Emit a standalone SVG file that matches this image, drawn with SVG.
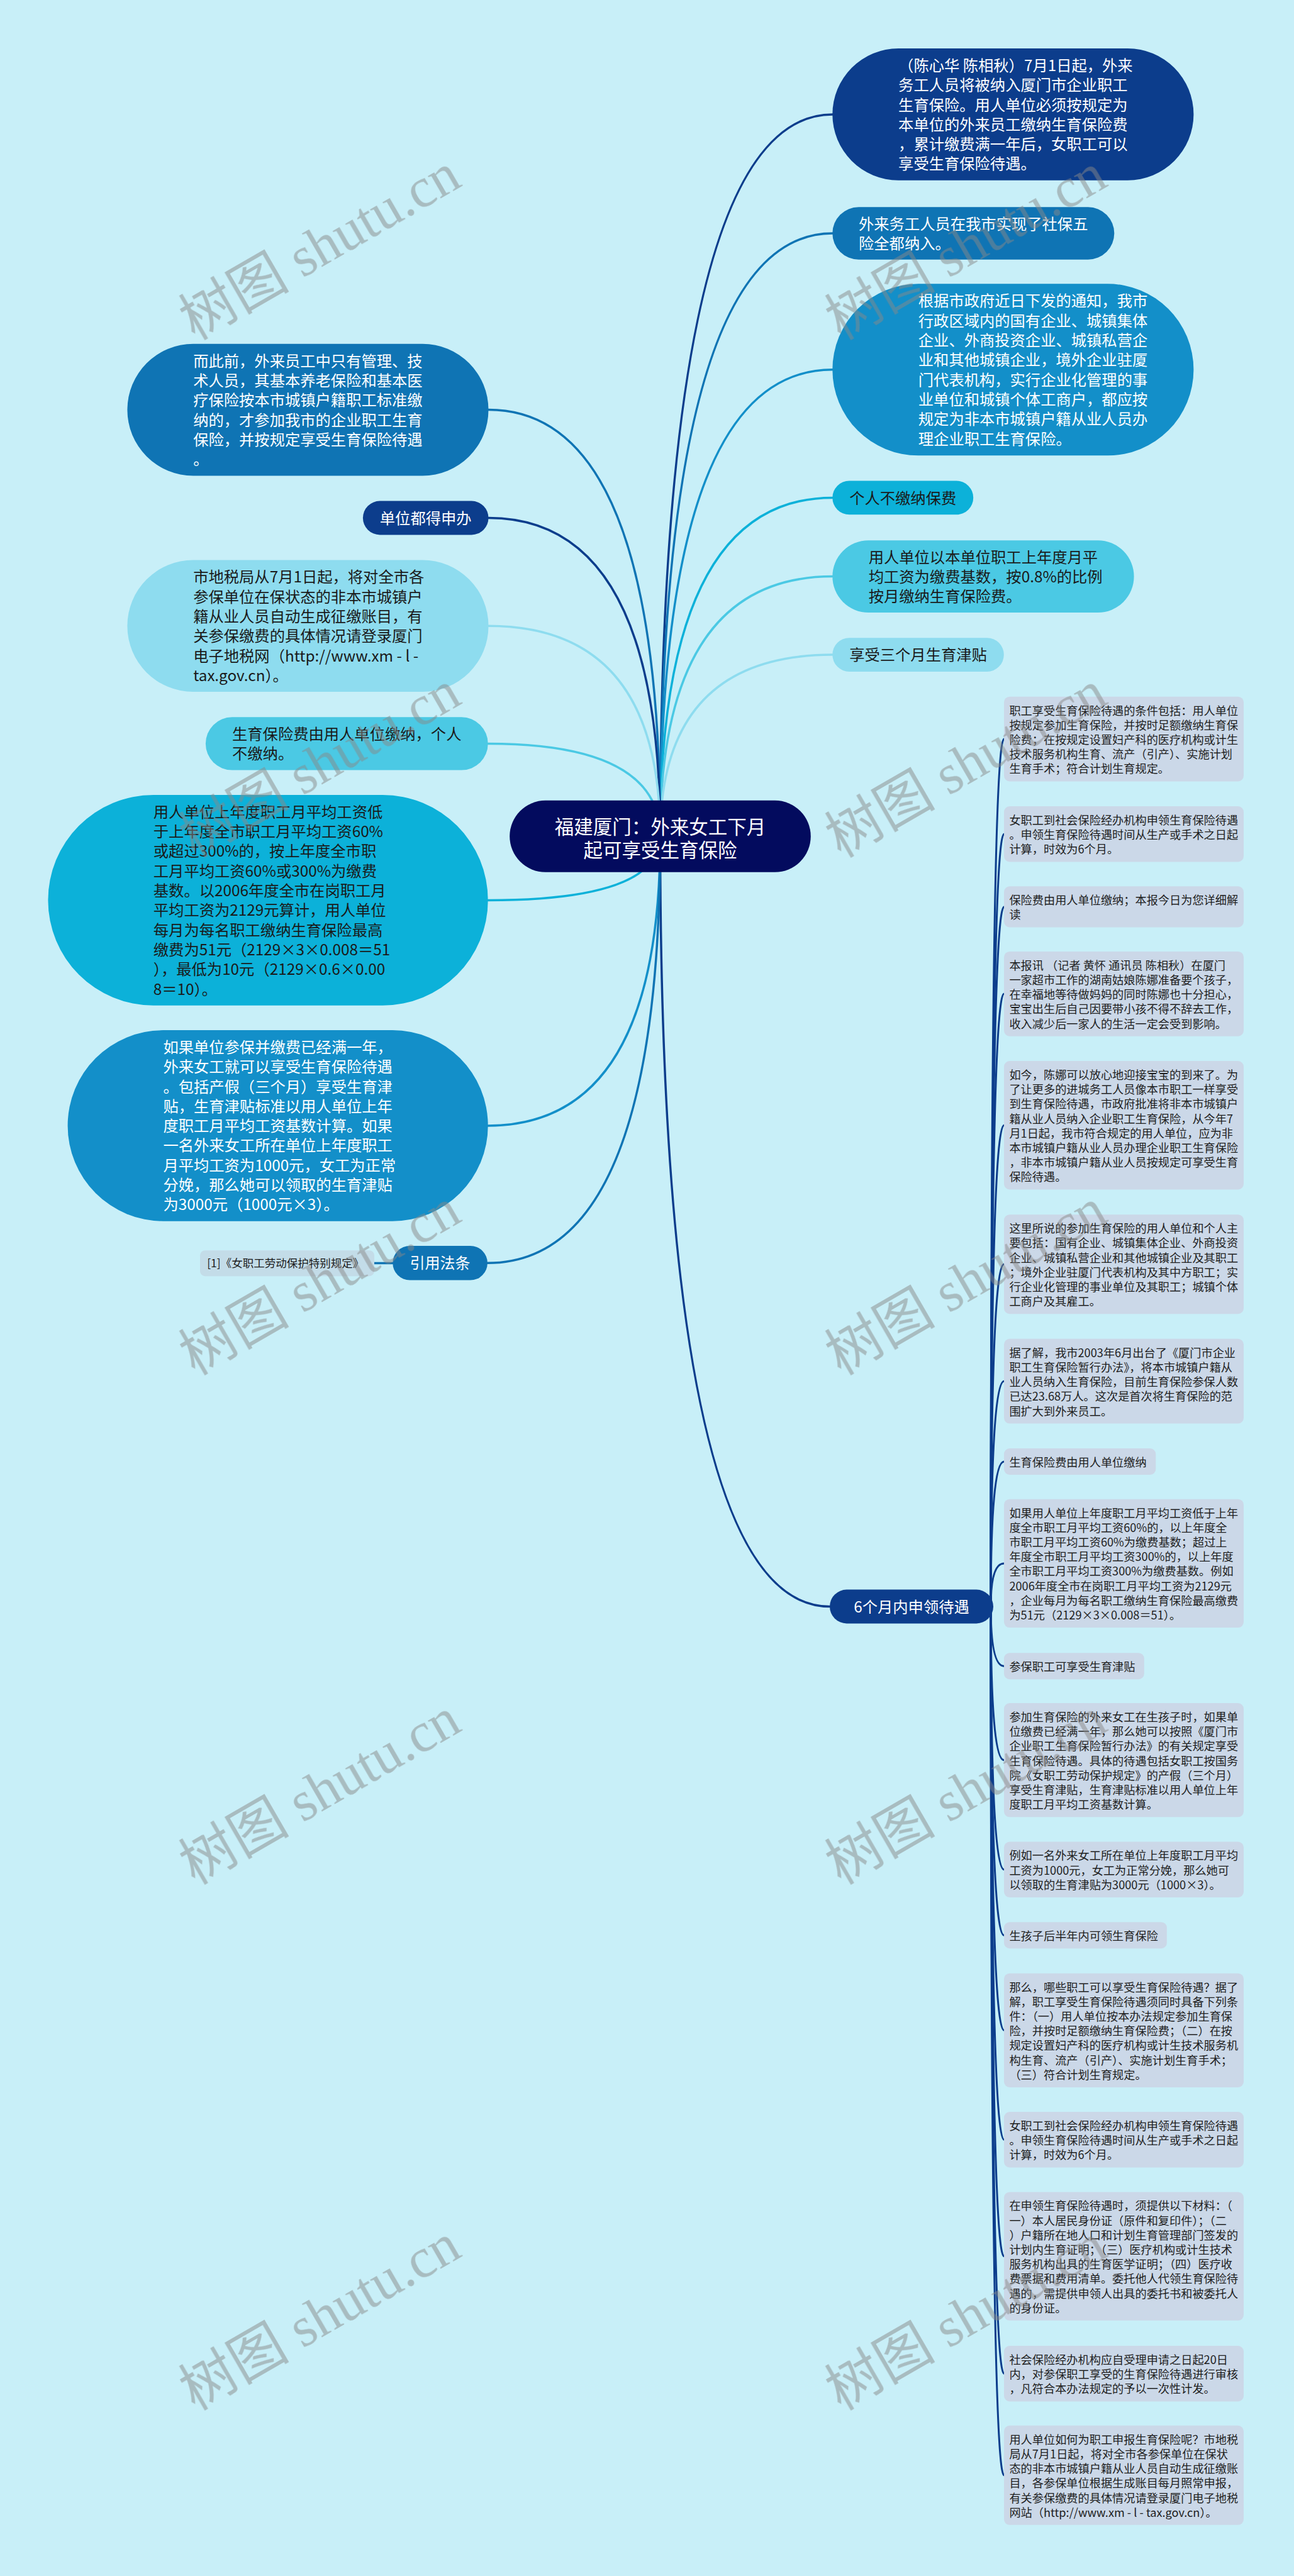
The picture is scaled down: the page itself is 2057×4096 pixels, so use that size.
<svg xmlns="http://www.w3.org/2000/svg" width="2057" height="4096" viewBox="0 0 2057 4096">
<style>
.t{font-family:"Noto Sans CJK SC","Noto Sans",sans-serif}
.big{font-size:24.3px}
.sm{font-size:18.2px;fill:#1e1e1e}
.w{fill:#ffffff}
.d{fill:#1a1a1a}
.box{fill:#cbd8e8}
.c{fill:none;stroke-width:3.5;stroke-linecap:round}
.cc{fill:none;stroke:#0c3d8c;stroke-width:3;stroke-linecap:round}
.navy{fill:#0c3d8c}.blue{fill:#0f74b4}.med{fill:#138fc9}.cyan{fill:#0cb1d9}.light{fill:#4bc9e4}.pale{fill:#8edcef}
.sn{stroke:#0c3d8c}.sb{stroke:#0f74b4}.sm2{stroke:#138fc9}.sc{stroke:#0cb1d9}.sl{stroke:#4bc9e4}.sp{stroke:#8edcef}
.wm{font-family:"Liberation Serif","Noto Sans CJK SC",serif;font-size:88px;fill:#888888;opacity:0.5}
</style>
<rect x="0" y="0" width="2057" height="4096" fill="#c8eff8"/>
<g id="connectors">
<path class="c sn" d="M1049.5,1329.8 Q1049.5,181.9 1323.3,181.9"/>
<path class="c sb" d="M1049.5,1329.8 Q1049.5,371 1323.3,371"/>
<path class="c sm2" d="M1049.5,1329.8 Q1049.5,587.8 1323.3,587.8"/>
<path class="c sc" d="M1049.5,1329.8 Q1049.5,791.4 1323.3,791.4"/>
<path class="c sl" d="M1049.5,1329.8 Q1049.5,916.6 1323.3,916.6"/>
<path class="c sp" d="M1049.5,1329.8 Q1049.5,1041.1 1323.3,1041.1"/>
<path class="c sn" d="M1049.5,1329.8 Q1049.5,2554.5 1319,2554.5"/>
<path class="c sb" d="M1049.5,1329.8 Q1049.5,651.6 776.5,651.6"/>
<path class="c sn" d="M1049.5,1329.8 Q1049.5,823.5 776.5,823.5"/>
<path class="c sp" d="M1049.5,1329.8 Q1049.5,995.3 776.5,995.3"/>
<path class="c sl" d="M1049.5,1329.8 Q1049.5,1182.45 775.7,1182.45"/>
<path class="c sc" d="M1049.5,1329.8 Q1049.5,1431.4 775.7,1431.4"/>
<path class="c sm2" d="M1049.5,1329.8 Q1049.5,1789.9 775.7,1789.9"/>
<path class="c sb" d="M1049.5,1329.8 Q1049.5,2008.3 774.9,2008.3"/>
<path class="c sb" d="M595,2008.5 L624.3,2008.5"/>
<path class="cc" d="M1575,2554.5 Q1575,1175.1 1596,1175.1"/>
<path class="cc" d="M1575,2554.5 Q1575,1326.2 1596,1326.2"/>
<path class="cc" d="M1575,2554.5 Q1575,1441.9 1596,1441.9"/>
<path class="cc" d="M1575,2554.5 Q1575,1580.3 1596,1580.3"/>
<path class="cc" d="M1575,2554.5 Q1575,1789.3 1596,1789.3"/>
<path class="cc" d="M1575,2554.5 Q1575,2010.2 1596,2010.2"/>
<path class="cc" d="M1575,2554.5 Q1575,2196.2 1596,2196.2"/>
<path class="cc" d="M1575,2554.5 Q1575,2324 1596,2324"/>
<path class="cc" d="M1575,2554.5 Q1575,2485.9 1596,2485.9"/>
<path class="cc" d="M1575,2554.5 Q1575,2649.2 1596,2649.2"/>
<path class="cc" d="M1575,2554.5 Q1575,2798.7 1596,2798.7"/>
<path class="cc" d="M1575,2554.5 Q1575,2972.7 1596,2972.7"/>
<path class="cc" d="M1575,2554.5 Q1575,3077.2 1596,3077.2"/>
<path class="cc" d="M1575,2554.5 Q1575,3228.3 1596,3228.3"/>
<path class="cc" d="M1575,2554.5 Q1575,3402.3 1596,3402.3"/>
<path class="cc" d="M1575,2554.5 Q1575,3587.6 1596,3587.6"/>
<path class="cc" d="M1575,2554.5 Q1575,3774.2 1596,3774.2"/>
<path class="cc" d="M1575,2554.5 Q1575,3935.8 1596,3935.8"/>
</g>

<g id="root">
<rect x="810.2" y="1272.8" width="478.6" height="114" rx="57" fill="#030b5e"/>
<text class="t w" font-size="30.5" text-anchor="middle"><tspan x="1049.5" y="1325.9">福建厦门：外来女工下月</tspan><tspan x="1049.5" y="1362.9">起可享受生育保险</tspan></text>
</g>

<g id="n1">
<rect class="navy" x="1323.3" y="77.1" width="574.1" height="209.6" rx="104.8"/>
<text class="t big w"><tspan x="1428.1" y="112.9">（陈心华 陈相秋）7月1日起，外来</tspan><tspan x="1428.1" y="144.2">务工人员将被纳入厦门市企业职工</tspan><tspan x="1428.1" y="175.5">生育保险。用人单位必须按规定为</tspan><tspan x="1428.1" y="206.8">本单位的外来员工缴纳生育保险费</tspan><tspan x="1428.1" y="238.1">，累计缴费满一年后，女职工可以</tspan><tspan x="1428.1" y="269.4">享受生育保险待遇。</tspan></text>
</g>
<g id="n2">
<rect class="blue" x="1323.3" y="329.2" width="448" height="83.5" rx="41.75"/>
<text class="t big w"><tspan x="1365" y="364.6">外来务工人员在我市实现了社保五</tspan><tspan x="1365" y="395.9">险全都纳入。</tspan></text>
</g>
<g id="n3">
<rect class="med" x="1323.3" y="451.3" width="574.1" height="273" rx="136.5"/>
<text class="t big w"><tspan x="1459.8" y="487.4">根据市政府近日下发的通知，我市</tspan><tspan x="1459.8" y="518.7">行政区域内的国有企业、城镇集体</tspan><tspan x="1459.8" y="550">企业、外商投资企业、城镇私营企</tspan><tspan x="1459.8" y="581.3">业和其他城镇企业，境外企业驻厦</tspan><tspan x="1459.8" y="612.6">门代表机构，实行企业化管理的事</tspan><tspan x="1459.8" y="643.9">业单位和城镇个体工商户，都应按</tspan><tspan x="1459.8" y="675.2">规定为非本市城镇户籍从业人员办</tspan><tspan x="1459.8" y="706.5">理企业职工生育保险。</tspan></text>
</g>
<g id="n4">
<rect class="cyan" x="1323.3" y="764.5" width="223.9" height="53.8" rx="26.9"/>
<text class="t big d" x="1350.2" y="800.6">个人不缴纳保费</text>
</g>
<g id="n5">
<rect class="light" x="1323.3" y="859.2" width="479.3" height="114.8" rx="57.4"/>
<text class="t big d"><tspan x="1380.7" y="894.5">用人单位以本单位职工上年度月平</tspan><tspan x="1380.7" y="925.8">均工资为缴费基数，按0.8%的比例</tspan><tspan x="1380.7" y="957.1">按月缴纳生育保险费。</tspan></text>
</g>
<g id="n6">
<rect class="pale" x="1323.3" y="1014.2" width="272.5" height="53.8" rx="26.9"/>
<text class="t big d" x="1350.2" y="1050.3">享受三个月生育津贴</text>
</g>
<g id="n7">
<rect class="navy" x="1319" y="2527.6" width="260" height="53.8" rx="26.9"/>
<text class="t big w" x="1449" y="2563.7" text-anchor="middle">6个月内申领待遇</text>
</g>

<g id="l1">
<rect class="blue" x="202.4" y="546.8" width="574.1" height="209.6" rx="104.8"/>
<text class="t big w"><tspan x="307.2" y="582.6">而此前，外来员工中只有管理、技</tspan><tspan x="307.2" y="613.9">术人员，其基本养老保险和基本医</tspan><tspan x="307.2" y="645.2">疗保险按本市城镇户籍职工标准缴</tspan><tspan x="307.2" y="676.5">纳的，才参加我市的企业职工生育</tspan><tspan x="307.2" y="707.8">保险，并按规定享受生育保险待遇</tspan><tspan x="307.2" y="739.1">。</tspan></text>
</g>
<g id="l2">
<rect class="navy" x="576.9" y="796.6" width="199.6" height="53.8" rx="26.9"/>
<text class="t big w" x="676.7" y="832.7" text-anchor="middle">单位都得申办</text>
</g>
<g id="l3">
<rect class="pale" x="202.4" y="890.5" width="574.1" height="209.6" rx="104.8"/>
<text class="t big d"><tspan x="307.2" y="926.3">市地税局从7月1日起，将对全市各</tspan><tspan x="307.2" y="957.6">参保单位在保状态的非本市城镇户</tspan><tspan x="307.2" y="988.9">籍从业人员自动生成征缴账目，有</tspan><tspan x="307.2" y="1020.2">关参保缴费的具体情况请登录厦门</tspan><tspan x="307.2" y="1051.5">电子地税网（http://www.xm - l -</tspan><tspan x="307.2" y="1082.8">tax.gov.cn）。</tspan></text>
</g>
<g id="l4">
<rect class="light" x="326.9" y="1140.3" width="448.8" height="84.3" rx="42.15"/>
<text class="t big d"><tspan x="369" y="1176">生育保险费由用人单位缴纳，个人</tspan><tspan x="369" y="1207.3">不缴纳。</tspan></text>
</g>
<g id="l5">
<rect class="cyan" x="76.4" y="1264" width="699.3" height="334.8" rx="167.4"/>
<text class="t big d"><tspan x="243.8" y="1299.8">用人单位上年度职工月平均工资低</tspan><tspan x="243.8" y="1331.1">于上年度全市职工月平均工资60%</tspan><tspan x="243.8" y="1362.4">或超过300%的，按上年度全市职</tspan><tspan x="243.8" y="1393.7">工月平均工资60%或300%为缴费</tspan><tspan x="243.8" y="1425">基数。以2006年度全市在岗职工月</tspan><tspan x="243.8" y="1456.3">平均工资为2129元算计，用人单位</tspan><tspan x="243.8" y="1487.6">每月为每名职工缴纳生育保险最高</tspan><tspan x="243.8" y="1518.9">缴费为51元（2129×3×0.008＝51</tspan><tspan x="243.8" y="1550.2">），最低为10元（2129×0.6×0.00</tspan><tspan x="243.8" y="1581.5">8＝10）。</tspan></text>
</g>
<g id="l6">
<rect class="med" x="107.6" y="1638.1" width="668.1" height="303.6" rx="151.8"/>
<text class="t big w"><tspan x="259.4" y="1673.9">如果单位参保并缴费已经满一年，</tspan><tspan x="259.4" y="1705.2">外来女工就可以享受生育保险待遇</tspan><tspan x="259.4" y="1736.5">。包括产假（三个月）享受生育津</tspan><tspan x="259.4" y="1767.8">贴，生育津贴标准以用人单位上年</tspan><tspan x="259.4" y="1799.1">度职工月平均工资基数计算。如果</tspan><tspan x="259.4" y="1830.4">一名外来女工所在单位上年度职工</tspan><tspan x="259.4" y="1861.7">月平均工资为1000元，女工为正常</tspan><tspan x="259.4" y="1893">分娩，那么她可以领取的生育津贴</tspan><tspan x="259.4" y="1924.3">为3000元（1000元×3）。</tspan></text>
</g>
<g id="l7">
<rect class="blue" x="624.3" y="1981" width="150.6" height="54.6" rx="27.3"/>
<text class="t w" font-size="24" x="699.6" y="2017.4" text-anchor="middle">引用法条</text>
</g>
<g id="law">
<rect x="318" y="1988.2" width="277" height="41" rx="8" fill="#c3dce8"/>
<text class="t d" font-size="17.5" x="329.2" y="2015.3">[1]《女职工劳动保护特别规定》</text>
</g>

<g id="r1"><rect class="box" x="1596" y="1107.7" width="381" height="134.8" rx="9"/>
<text class="t sm"><tspan x="1604.4" y="1136.6">职工享受生育保险待遇的条件包括：用人单位</tspan><tspan x="1604.4" y="1159.8">按规定参加生育保险，并按时足额缴纳生育保</tspan><tspan x="1604.4" y="1183">险费；在按规定设置妇产科的医疗机构或计生</tspan><tspan x="1604.4" y="1206.2">技术服务机构生育、流产（引产）、实施计划</tspan><tspan x="1604.4" y="1229.4">生育手术；符合计划生育规定。</tspan></text></g>
<g id="r2"><rect class="box" x="1596" y="1282" width="381" height="88.4" rx="9"/>
<text class="t sm"><tspan x="1604.4" y="1310.9">女职工到社会保险经办机构申领生育保险待遇</tspan><tspan x="1604.4" y="1334.1">。申领生育保险待遇时间从生产或手术之日起</tspan><tspan x="1604.4" y="1357.3">计算，时效为6个月。</tspan></text></g>
<g id="r3"><rect class="box" x="1596" y="1409.3" width="381" height="65.2" rx="9"/>
<text class="t sm"><tspan x="1604.4" y="1438.2">保险费由用人单位缴纳；本报今日为您详细解</tspan><tspan x="1604.4" y="1461.4">读</tspan></text></g>
<g id="r4"><rect class="box" x="1596" y="1512.9" width="381" height="134.8" rx="9"/>
<text class="t sm"><tspan x="1604.4" y="1541.8">本报讯 （记者 黄怀 通讯员 陈相秋）在厦门</tspan><tspan x="1604.4" y="1565">一家超市工作的湖南姑娘陈娜准备要个孩子，</tspan><tspan x="1604.4" y="1588.2">在幸福地等待做妈妈的同时陈娜也十分担心，</tspan><tspan x="1604.4" y="1611.4">宝宝出生后自己因要带小孩不得不辞去工作，</tspan><tspan x="1604.4" y="1634.6">收入减少后一家人的生活一定会受到影响。</tspan></text></g>
<g id="r5"><rect class="box" x="1596" y="1687.1" width="381" height="204.4" rx="9"/>
<text class="t sm"><tspan x="1604.4" y="1716">如今，陈娜可以放心地迎接宝宝的到来了。为</tspan><tspan x="1604.4" y="1739.2">了让更多的进城务工人员像本市职工一样享受</tspan><tspan x="1604.4" y="1762.4">到生育保险待遇，市政府批准将非本市城镇户</tspan><tspan x="1604.4" y="1785.6">籍从业人员纳入企业职工生育保险，从今年7</tspan><tspan x="1604.4" y="1808.8">月1日起，我市符合规定的用人单位，应为非</tspan><tspan x="1604.4" y="1832">本市城镇户籍从业人员办理企业职工生育保险</tspan><tspan x="1604.4" y="1855.2">，非本市城镇户籍从业人员按规定可享受生育</tspan><tspan x="1604.4" y="1878.4">保险待遇。</tspan></text></g>
<g id="r6"><rect class="box" x="1596" y="1931.2" width="381" height="158" rx="9"/>
<text class="t sm"><tspan x="1604.4" y="1960.1">这里所说的参加生育保险的用人单位和个人主</tspan><tspan x="1604.4" y="1983.3">要包括：国有企业、城镇集体企业、外商投资</tspan><tspan x="1604.4" y="2006.5">企业、城镇私营企业和其他城镇企业及其职工</tspan><tspan x="1604.4" y="2029.7">；境外企业驻厦门代表机构及其中方职工；实</tspan><tspan x="1604.4" y="2052.9">行企业化管理的事业单位及其职工；城镇个体</tspan><tspan x="1604.4" y="2076.1">工商户及其雇工。</tspan></text></g>
<g id="r7"><rect class="box" x="1596" y="2128.8" width="381" height="134.8" rx="9"/>
<text class="t sm"><tspan x="1604.4" y="2157.7">据了解，我市2003年6月出台了《厦门市企业</tspan><tspan x="1604.4" y="2180.9">职工生育保险暂行办法》，将本市城镇户籍从</tspan><tspan x="1604.4" y="2204.1">业人员纳入生育保险，目前生育保险参保人数</tspan><tspan x="1604.4" y="2227.3">已达23.68万人。这次是首次将生育保险的范</tspan><tspan x="1604.4" y="2250.5">围扩大到外来员工。</tspan></text></g>
<g id="r8"><rect class="box" x="1596" y="2303" width="241.3" height="42" rx="9"/>
<text class="t sm" x="1604.4" y="2331.9">生育保险费由用人单位缴纳</text></g>
<g id="r9"><rect class="box" x="1596" y="2383.7" width="381" height="204.4" rx="9"/>
<text class="t sm"><tspan x="1604.4" y="2412.6">如果用人单位上年度职工月平均工资低于上年</tspan><tspan x="1604.4" y="2435.8">度全市职工月平均工资60%的，以上年度全</tspan><tspan x="1604.4" y="2459">市职工月平均工资60%为缴费基数；超过上</tspan><tspan x="1604.4" y="2482.2">年度全市职工月平均工资300%的，以上年度</tspan><tspan x="1604.4" y="2505.4">全市职工月平均工资300%为缴费基数。例如</tspan><tspan x="1604.4" y="2528.6">2006年度全市在岗职工月平均工资为2129元</tspan><tspan x="1604.4" y="2551.8">，企业每月为每名职工缴纳生育保险最高缴费</tspan><tspan x="1604.4" y="2575">为51元（2129×3×0.008＝51）。</tspan></text></g>
<g id="r10"><rect class="box" x="1596" y="2628.2" width="222.8" height="42" rx="9"/>
<text class="t sm" x="1604.4" y="2657.1">参保职工可享受生育津贴</text></g>
<g id="r11"><rect class="box" x="1596" y="2708.1" width="381" height="181.2" rx="9"/>
<text class="t sm"><tspan x="1604.4" y="2737">参加生育保险的外来女工在生孩子时，如果单</tspan><tspan x="1604.4" y="2760.2">位缴费已经满一年，那么她可以按照《厦门市</tspan><tspan x="1604.4" y="2783.4">企业职工生育保险暂行办法》的有关规定享受</tspan><tspan x="1604.4" y="2806.6">生育保险待遇。具体的待遇包括女职工按国务</tspan><tspan x="1604.4" y="2829.8">院《女职工劳动保护规定》的产假（三个月）</tspan><tspan x="1604.4" y="2853">享受生育津贴，生育津贴标准以用人单位上年</tspan><tspan x="1604.4" y="2876.2">度职工月平均工资基数计算。</tspan></text></g>
<g id="r12"><rect class="box" x="1596" y="2928.5" width="381" height="88.4" rx="9"/>
<text class="t sm"><tspan x="1604.4" y="2957.4">例如一名外来女工所在单位上年度职工月平均</tspan><tspan x="1604.4" y="2980.6">工资为1000元，女工为正常分娩，那么她可</tspan><tspan x="1604.4" y="3003.8">以领取的生育津贴为3000元（1000×3）。</tspan></text></g>
<g id="r13"><rect class="box" x="1596" y="3056.2" width="258.9" height="42" rx="9"/>
<text class="t sm" x="1604.4" y="3085.1">生孩子后半年内可领生育保险</text></g>
<g id="r14"><rect class="box" x="1596" y="3137.7" width="381" height="181.2" rx="9"/>
<text class="t sm"><tspan x="1604.4" y="3166.6">那么，哪些职工可以享受生育保险待遇？据了</tspan><tspan x="1604.4" y="3189.8">解，职工享受生育保险待遇须同时具备下列条</tspan><tspan x="1604.4" y="3213">件：（一）用人单位按本办法规定参加生育保</tspan><tspan x="1604.4" y="3236.2">险，并按时足额缴纳生育保险费；（二）在按</tspan><tspan x="1604.4" y="3259.4">规定设置妇产科的医疗机构或计生技术服务机</tspan><tspan x="1604.4" y="3282.6">构生育、流产（引产）、实施计划生育手术；</tspan><tspan x="1604.4" y="3305.8">（三）符合计划生育规定。</tspan></text></g>
<g id="r15"><rect class="box" x="1596" y="3358.1" width="381" height="88.4" rx="9"/>
<text class="t sm"><tspan x="1604.4" y="3387">女职工到社会保险经办机构申领生育保险待遇</tspan><tspan x="1604.4" y="3410.2">。申领生育保险待遇时间从生产或手术之日起</tspan><tspan x="1604.4" y="3433.4">计算，时效为6个月。</tspan></text></g>
<g id="r16"><rect class="box" x="1596" y="3485.4" width="381" height="204.4" rx="9"/>
<text class="t sm"><tspan x="1604.4" y="3514.3">在申领生育保险待遇时，须提供以下材料：（</tspan><tspan x="1604.4" y="3537.5">一）本人居民身份证（原件和复印件）；（二</tspan><tspan x="1604.4" y="3560.7">）户籍所在地人口和计划生育管理部门签发的</tspan><tspan x="1604.4" y="3583.9">计划内生育证明；（三）医疗机构或计生技术</tspan><tspan x="1604.4" y="3607.1">服务机构出具的生育医学证明；（四）医疗收</tspan><tspan x="1604.4" y="3630.3">费票据和费用清单。委托他人代领生育保险待</tspan><tspan x="1604.4" y="3653.5">遇的，需提供申领人出具的委托书和被委托人</tspan><tspan x="1604.4" y="3676.7">的身份证。</tspan></text></g>
<g id="r17"><rect class="box" x="1596" y="3730" width="381" height="88.4" rx="9"/>
<text class="t sm"><tspan x="1604.4" y="3758.9">社会保险经办机构应自受理申请之日起20日</tspan><tspan x="1604.4" y="3782.1">内，对参保职工享受的生育保险待遇进行审核</tspan><tspan x="1604.4" y="3805.3">，凡符合本办法规定的予以一次性计发。</tspan></text></g>
<g id="r18"><rect class="box" x="1596" y="3856.8" width="381" height="158" rx="9"/>
<text class="t sm"><tspan x="1604.4" y="3885.7">用人单位如何为职工申报生育保险呢？市地税</tspan><tspan x="1604.4" y="3908.9">局从7月1日起，将对全市各参保单位在保状</tspan><tspan x="1604.4" y="3932.1">态的非本市城镇户籍从业人员自动生成征缴账</tspan><tspan x="1604.4" y="3955.3">目，各参保单位根据生成账目每月照常申报，</tspan><tspan x="1604.4" y="3978.5">有关参保缴费的具体情况请登录厦门电子地税</tspan><tspan x="1604.4" y="4001.7">网站（http://www.xm - l - tax.gov.cn）。</tspan></text></g>

<g id="watermarks" class="wm" text-anchor="middle">
<text transform="translate(523,418) rotate(-30)">树图 shutu.cn</text>
<text transform="translate(1550,418) rotate(-30)">树图 shutu.cn</text>
<text transform="translate(523,1241) rotate(-30)">树图 shutu.cn</text>
<text transform="translate(1550,1241) rotate(-30)">树图 shutu.cn</text>
<text transform="translate(523,2064) rotate(-30)">树图 shutu.cn</text>
<text transform="translate(1550,2064) rotate(-30)">树图 shutu.cn</text>
<text transform="translate(523,2874) rotate(-30)">树图 shutu.cn</text>
<text transform="translate(1550,2874) rotate(-30)">树图 shutu.cn</text>
<text transform="translate(523,3710) rotate(-30)">树图 shutu.cn</text>
<text transform="translate(1550,3710) rotate(-30)">树图 shutu.cn</text>
</g>
</svg>
